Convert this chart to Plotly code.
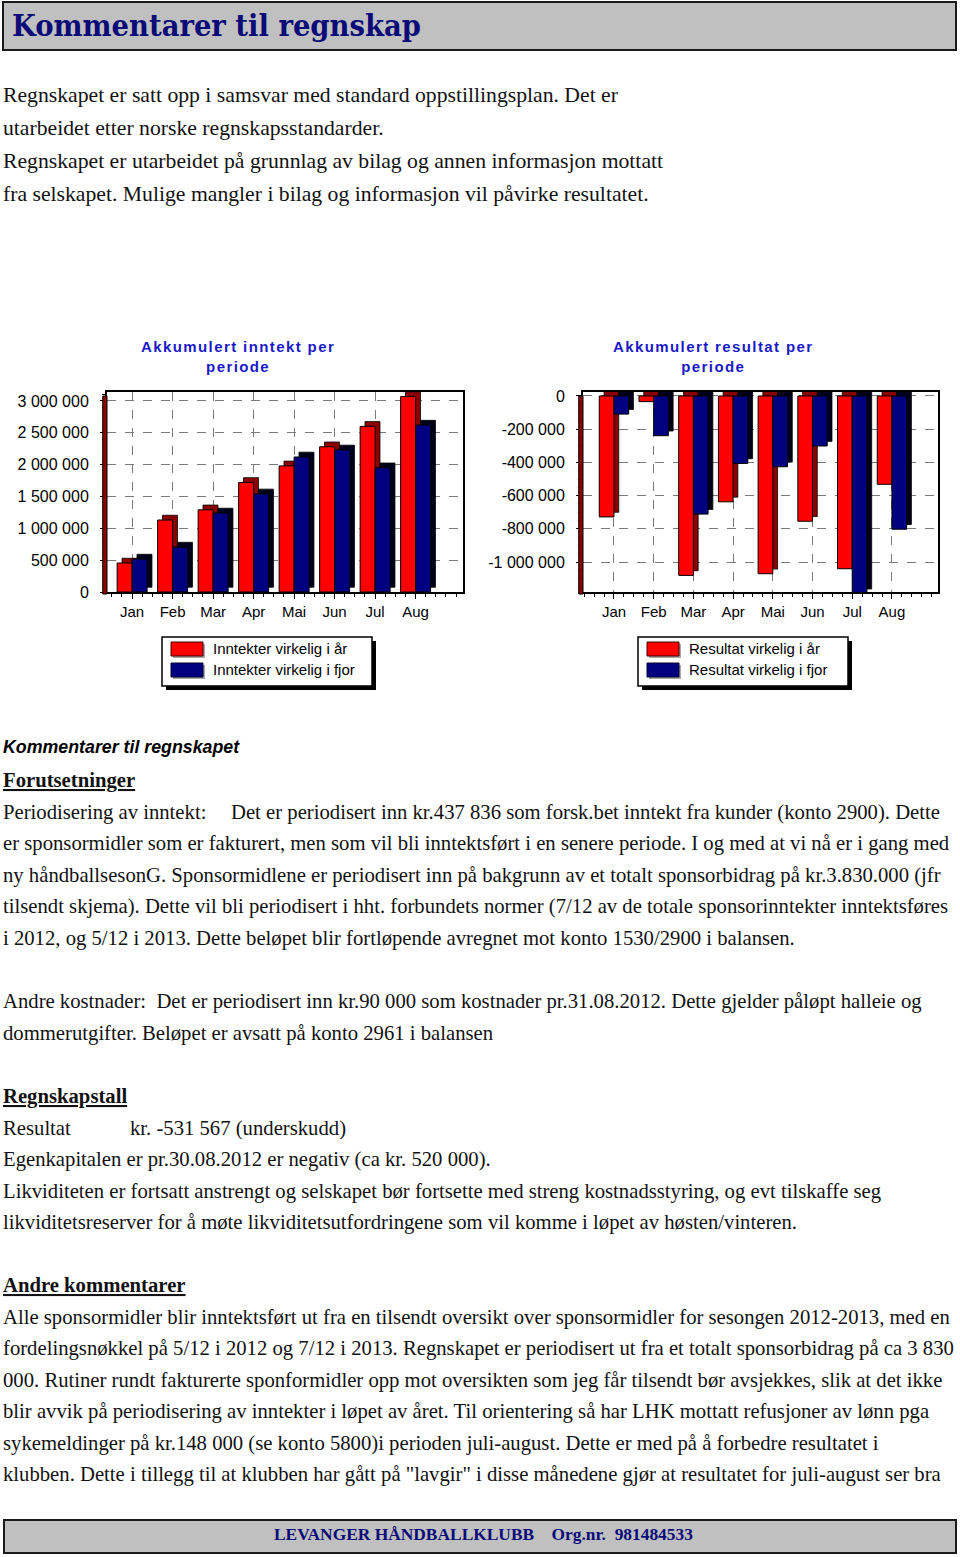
import plotly.graph_objects as go

W, H = 960, 1557

# ---------------- data ----------------
months = ["Jan", "Feb", "Mar", "Apr", "Mai", "Jun", "Jul", "Aug"]
inntekt_i_aar = [455000, 1130000, 1290000, 1720000, 1980000, 2280000, 2600000, 3070000]
inntekt_i_fjor = [517000, 705000, 1240000, 1540000, 2120000, 2230000, 1950000, 2620000]
resultat_i_aar = [-728000, -34000, -1080000, -637000, -1070000, -754000, -1040000, -531567]
resultat_i_fjor = [-109000, -239000, -711000, -406000, -426000, -301000, -1190000, -802000]

inntekt_tickvals = [0, 500000, 1000000, 1500000, 2000000, 2500000, 3000000]
inntekt_ticktext = ["0", "500 000", "1 000 000", "1 500 000", "2 000 000", "2 500 000", "3 000 000"]
resultat_tickvals = [0, -200000, -400000, -600000, -800000, -1000000]
resultat_ticktext = ["0", "-200 000", "-400 000", "-600 000", "-800 000", "-1 000 000"]

title_inntekt = "Akkumulert inntekt per<br>periode"
title_resultat = "Akkumulert resultat per<br>periode"
legend_inntekt = ["Inntekter virkelig i år", "Inntekter virkelig i fjor"]
legend_resultat = ["Resultat virkelig i år", "Resultat virkelig i fjor"]

header_title = "Kommentarer til regnskap"
intro_lines = [
    "Regnskapet er satt opp i samsvar med standard oppstillingsplan. Det er",
    "utarbeidet etter norske regnskapsstandarder.",
    "Regnskapet er utarbeidet på grunnlag av bilag og annen informasjon mottatt",
    "fra selskapet. Mulige mangler i bilag og informasjon vil påvirke resultatet.",
]
kommentar_heading = "Kommentarer til regnskapet"
forutsetninger_heading = "Forutsetninger"
periodisering_label = "Periodisering av inntekt:"
periodisering_lines = [
    "Det er periodisert inn kr.437 836 som forsk.bet inntekt fra kunder (konto 2900). Dette",
    "er sponsormidler som er fakturert, men som vil bli inntektsført i en senere periode. I og med at vi nå er i gang med",
    "ny håndballsesonG. Sponsormidlene er periodisert inn på bakgrunn av et totalt sponsorbidrag på kr.3.830.000 (jfr",
    "tilsendt skjema). Dette vil bli periodisert i hht. forbundets normer (7/12 av de totale sponsorinntekter inntektsføres",
    "i 2012, og 5/12 i 2013. Dette beløpet blir fortløpende avregnet mot konto 1530/2900 i balansen.",
]
kostnader_lines = [
    "Andre kostnader:  Det er periodisert inn kr.90 000 som kostnader pr.31.08.2012. Dette gjelder påløpt halleie og",
    "dommerutgifter. Beløpet er avsatt på konto 2961 i balansen",
]
regnskapstall_heading = "Regnskapstall"
resultat_label = "Resultat"
resultat_text = "kr. -531 567 (underskudd)"
regnskapstall_lines = [
    "Egenkapitalen er pr.30.08.2012 er negativ (ca kr. 520 000).",
    "Likviditeten er fortsatt anstrengt og selskapet bør fortsette med streng kostnadsstyring, og evt tilskaffe seg",
    "likviditetsreserver for å møte likviditetsutfordringene som vil komme i løpet av høsten/vinteren.",
]
andre_heading = "Andre kommentarer"
andre_lines = [
    "Alle sponsormidler blir inntektsført ut fra en tilsendt oversikt over sponsormidler for sesongen 2012-2013, med en",
    "fordelingsnøkkel på 5/12 i 2012 og 7/12 i 2013. Regnskapet er periodisert ut fra et totalt sponsorbidrag på ca 3 830",
    "000. Rutiner rundt fakturerte sponformidler opp mot oversikten som jeg får tilsendt bør avsjekkes, slik at det ikke",
    "blir avvik på periodisering av inntekter i løpet av året. Til orientering så har LHK mottatt refusjoner av lønn pga",
    "sykemeldinger på kr.148 000 (se konto 5800)i perioden juli-august. Dette er med på å forbedre resultatet i",
    "klubben. Dette i tillegg til at klubben har gått på \"lavgir\" i disse månedene gjør at resultatet for juli-august ser bra",
]
footer_text = "LEVANGER HÅNDBALLKLUBB&nbsp;&nbsp;&nbsp;&nbsp;Org.nr.&nbsp;&nbsp;981484533"

# ---------------- styling ----------------
RED, RED_SIDE = "#ff0000", "#8b0000"
BLUE, BLUE_SIDE = "#000080", "#00001a"
NAVY = "#0a0a78"
TITLE_BLUE = "#1a1ac8"
SANS = "Liberation Sans, Arial, sans-serif"
SERIF = "Liberation Serif, Times New Roman, serif"
SLAB = "DejaVu Serif Condensed, DejaVu Serif, serif"

idx = list(range(len(months)))

fig = go.Figure()


def add_bars(values, offset, width, color, side, xa, ya, dx, dy):
    fig.add_trace(go.Bar(x=idx, y=values, base=[dy] * len(values), offset=offset + dx, width=width,
                         marker=dict(color=side, line=dict(color="black", width=0.8)),
                         xaxis=xa, yaxis=ya, showlegend=False, hoverinfo="skip"))
    fig.add_trace(go.Bar(x=idx, y=values, offset=offset, width=width,
                         marker=dict(color=color, line=dict(color="black", width=1)),
                         xaxis=xa, yaxis=ya, showlegend=False))


BW = 0.37
add_bars(inntekt_i_aar, -BW, BW, RED, RED_SIDE, "x", "y", 0.12, 75000)
add_bars(inntekt_i_fjor, 0.0, BW, BLUE, BLUE_SIDE, "x", "y", 0.12, 75000)
add_bars(resultat_i_aar, -BW, BW, RED, RED_SIDE, "x2", "y2", 0.12, 28000)
add_bars(resultat_i_fjor, 0.0, BW, BLUE, BLUE_SIDE, "x2", "y2", 0.12, 28000)


def px(x):
    return x / W


def py(y):
    return 1 - y / H


ydom = [py(592), py(392)]
axis_common = dict(showline=True, mirror=True, linecolor="black", linewidth=2,
                   showgrid=True, griddash="dash", gridcolor="#7a7a7a", gridwidth=1,
                   zeroline=False, ticks="outside", ticklen=5, tickcolor="black", automargin=False,
                   tickfont=dict(family=SANS, size=15, color="black"), fixedrange=True)

fig.update_layout(
    template="none",
    width=W, height=H, margin=dict(l=0, r=0, t=0, b=0, pad=0, autoexpand=False),
    paper_bgcolor="white", plot_bgcolor="white", barmode="overlay", showlegend=False,
    xaxis=dict(domain=[px(107), px(463)], range=[-0.62, 8.17], tickmode="array",
               tickvals=idx, ticktext=months, ticklabelstandoff=0,
               minor=dict(dtick=0.25, tick0=0, ticks="outside", ticklen=3, tickcolor="black", showgrid=False),
               **axis_common),
    yaxis=dict(domain=ydom, range=[0, 3140000], tickmode="array",
               tickvals=inntekt_tickvals, ticktext=inntekt_ticktext, ticklabelstandoff=8,
               minor=dict(dtick=100000, ticks="outside", ticklen=3, tickcolor="black", showgrid=False),
               **axis_common),
    xaxis2=dict(domain=[px(583), px(938)], range=[-0.78, 8.16], tickmode="array",
                tickvals=idx, ticktext=months, ticklabelstandoff=0, anchor="y2",
                minor=dict(dtick=0.25, tick0=0, ticks="outside", ticklen=3, tickcolor="black", showgrid=False),
                **axis_common),
    yaxis2=dict(domain=ydom, range=[-1180000, 24000], tickmode="array",
                tickvals=resultat_tickvals, ticktext=resultat_ticktext, ticklabelstandoff=8,
                anchor="x2",
                minor=dict(dtick=50000, ticks="outside", ticklen=3, tickcolor="black", showgrid=False),
                **axis_common),
)
fig.update_yaxes(tickfont=dict(family=SANS, size=16, color="black"))

shapes = []
# dark red left walls of the 3D charts
for xa in ["x", "x2"]:
    ya = "y" if xa == "x" else "y2"
    shapes.append(dict(type="rect", xref=f"{xa} domain", yref=f"{ya} domain", x0=-0.012, x1=0,
                       y0=-0.01, y1=0.98, fillcolor=RED_SIDE, line=dict(color="black", width=1), layer="above"))

# header & footer boxes
shapes.append(dict(type="rect", xref="paper", yref="paper", x0=px(3), x1=px(956), y0=py(50), y1=py(2),
                   fillcolor="#c0c0c0", line=dict(color="#1a1a1a", width=2), layer="below"))
shapes.append(dict(type="rect", xref="paper", yref="paper", x0=px(4), x1=px(956), y0=py(1553), y1=py(1520),
                   fillcolor="#c0c0c0", line=dict(color="#1a1a1a", width=2), layer="below"))


def legend_box(x0, labels):
    shapes.append(dict(type="rect", xref="paper", yref="paper", x0=px(x0 + 4), x1=px(x0 + 214),
                       y0=py(690), y1=py(641), fillcolor="black", line=dict(width=0)))
    shapes.append(dict(type="rect", xref="paper", yref="paper", x0=px(x0), x1=px(x0 + 210),
                       y0=py(686), y1=py(637), fillcolor="white", line=dict(color="black", width=1.5)))
    for i, (col, lab) in enumerate(zip([RED, BLUE], labels)):
        yc = 649 if i == 0 else 670
        shapes.append(dict(type="rect", xref="paper", yref="paper", x0=px(x0 + 11), x1=px(x0 + 43),
                           y0=py(yc + 9), y1=py(yc - 5), fillcolor="#a8a8a8", line=dict(width=0)))
        shapes.append(dict(type="rect", xref="paper", yref="paper", x0=px(x0 + 9), x1=px(x0 + 41),
                           y0=py(yc + 7), y1=py(yc - 7), fillcolor=col,
                           line=dict(color="#400000" if i == 0 else "#000030", width=1)))
        fig.add_annotation(text=lab, x=px(x0 + 49), y=py(yc - 1), xref="paper", yref="paper",
                           xanchor="left", yanchor="middle", showarrow=False,
                           font=dict(family=SANS, size=15, color="black"))


legend_box(162, legend_inntekt)
legend_box(638, legend_resultat)

fig.update_layout(shapes=shapes)


def txt(s, x, y, size, family=SERIF, color="#111111", xanchor="left"):
    fig.add_annotation(text=s, x=px(x), y=py(y), xref="paper", yref="paper", xanchor=xanchor,
                       yanchor="middle", showarrow=False, font=dict(family=family, size=size, color=color))


# chart titles
for t, xc in [(title_inntekt, 238), (title_resultat, 713)]:
    txt(f'<span style="letter-spacing:1.4px"><b>{t}</b></span>', xc, 357, 15, SANS, TITLE_BLUE, "center")

# header
txt(f"<b>{header_title}</b>", 10, 25, 30.5, SLAB, NAVY)

INTRO = 21.7
BODY = 20.7
for i, line in enumerate(intro_lines):
    txt(line, 1, 95 + i * 33, INTRO)

txt(f"<b><i>{kommentar_heading}</i></b>", 1, 747, 17.8, SANS, "black")
txt(f"<b><u>{forutsetninger_heading}</u></b>", 1, 780, BODY)
txt(periodisering_label, 1, 812, BODY)
txt(periodisering_lines[0], 229, 812, BODY)
for i, line in enumerate(periodisering_lines[1:]):
    txt(line, 1, 843.5 + i * 31.6, BODY)
for i, line in enumerate(kostnader_lines):
    txt(line, 1, 1001 + i * 32, BODY)
txt(f"<b><u>{regnskapstall_heading}</u></b>", 1, 1096, BODY)
txt(resultat_label, 1, 1128, BODY)
txt(resultat_text, 128, 1128, BODY)
for i, line in enumerate(regnskapstall_lines):
    txt(line, 1, 1159.5 + i * 31.5, BODY)
txt(f"<b><u>{andre_heading}</u></b>", 1, 1285, BODY)
for i, line in enumerate(andre_lines):
    txt(line, 1, 1317 + i * 31.5, BODY)

txt(f"<b>{footer_text}</b>", 483, 1534, 17.4, SERIF, NAVY, "center")

reset_js = (
    "var s=document.createElement('style');"
    "s.textContent='html,body{margin:0!important;padding:0!important;overflow:hidden!important;"
    "height:1557px!important;width:960px!important;}';"
    "document.head.appendChild(s);"
)
fig.write_html("out.html", config={"displayModeBar": False}, post_script=reset_js)
